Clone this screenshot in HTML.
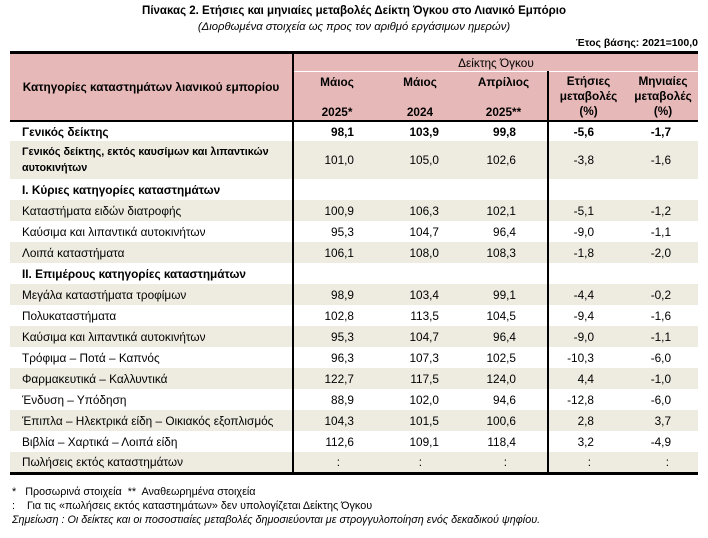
<!DOCTYPE html>
<html><head><meta charset="utf-8">
<style>
body{margin:0;width:708px;height:538px;background:#fff;font-family:"Liberation Sans Narrow","Liberation Sans","DejaVu Sans",sans-serif;color:#000;position:relative;overflow:hidden}
.t{position:absolute;left:0;width:708px;text-align:center;white-space:nowrap}
table{position:absolute;left:10px;top:51px;width:688px;border-collapse:collapse;table-layout:fixed;font-size:11.8px}
td{padding:0;white-space:nowrap;overflow:visible}
thead td{background:#e6b9b8;text-align:center}
.sh td{background:#eeece1}
td.l{padding-left:12px;text-align:left}
td.n1{text-align:right;padding-right:26px}
td.n2{text-align:right;padding-right:21px}
td.n3{text-align:right;padding-right:31px}
td.n4{text-align:right;padding-right:34px}
td.n5{text-align:right;padding-right:27px}
.vl{border-left:2px solid #000}
b{font-weight:bold}
tbody tr{height:21px}
tbody td{line-height:14px}
.foot{position:absolute;left:12px;font-size:10.8px;white-space:nowrap}
</style></head><body>
<div class="t" style="top:5px;font-size:11.5px;font-weight:bold">Πίνακας 2. Ετήσιες και μηνιαίες μεταβολές Δείκτη Όγκου στο Λιανικό Εμπόριο</div>
<div class="t" style="top:21px;font-size:11.3px;font-style:italic">(Διορθωμένα στοιχεία ως προς τον αριθμό εργάσιμων ημερών)</div>
<div style="position:absolute;right:10px;top:37px;font-size:10.5px;font-weight:bold">Έτος βάσης: 2021=100,0</div>
<table>
<colgroup><col style="width:283px"><col style="width:87px"><col style="width:80px"><col style="width:88px"><col style="width:80px"><col style="width:70px"></colgroup>
<thead>
<tr style="height:19px;border-top:3px solid #000"><td rowspan="2" style="font-weight:bold">Κατηγορίες καταστημάτων λιανικού εμπορίου</td><td colspan="5" class="vl" style="border-bottom:1px solid #fff;line-height:14px">Δείκτης Όγκου</td></tr>
<tr style="height:48px;border-bottom:2px solid #000;font-weight:bold">
<td class="vl" style="line-height:15px;padding-top:3px;vertical-align:top">Μάιος<br><br>2025*</td>
<td style="line-height:15px;padding-top:3px;vertical-align:top">Μάιος<br><br>2024</td>
<td style="line-height:15px;padding-top:3px;vertical-align:top">Απρίλιος<br><br>2025**</td>
<td class="vl" style="line-height:15px">Ετήσιες<br>μεταβολές<br>(%)</td>
<td style="line-height:15px">Μηνιαίες<br>μεταβολές<br>(%)</td></tr>
</thead>
<tbody>
<tr style="height:20px;font-weight:bold"><td class="l">Γενικός δείκτης</td><td class="n1 vl">98,1</td><td class="n2">103,9</td><td class="n3">99,8</td><td class="n4 vl">-5,6</td><td class="n5">-1,7</td></tr>
<tr class="sh" style="height:38px"><td class="l" style="font-weight:bold;line-height:16px;font-size:10.8px">Γενικός δείκτης, εκτός καυσίμων και λιπαντικών<br>αυτοκινήτων</td><td class="n1 vl">101,0</td><td class="n2">105,0</td><td class="n3">102,6</td><td class="n4 vl">-3,8</td><td class="n5">-1,6</td></tr>
<tr><td class="l"><b>I. Κύριες κατηγορίες καταστημάτων</b></td><td class="vl"></td><td></td><td></td><td class="vl"></td><td></td></tr>
<tr class="sh"><td class="l">Καταστήματα ειδών διατροφής</td><td class="n1 vl">100,9</td><td class="n2">106,3</td><td class="n3">102,1</td><td class="n4 vl">-5,1</td><td class="n5">-1,2</td></tr>
<tr><td class="l">Καύσιμα και λιπαντικά αυτοκινήτων</td><td class="n1 vl">95,3</td><td class="n2">104,7</td><td class="n3">96,4</td><td class="n4 vl">-9,0</td><td class="n5">-1,1</td></tr>
<tr class="sh"><td class="l">Λοιπά καταστήματα</td><td class="n1 vl">106,1</td><td class="n2">108,0</td><td class="n3">108,3</td><td class="n4 vl">-1,8</td><td class="n5">-2,0</td></tr>
<tr><td class="l"><b>II. Επιμέρους κατηγορίες καταστημάτων</b></td><td class="vl"></td><td></td><td></td><td class="vl"></td><td></td></tr>
<tr class="sh"><td class="l">Μεγάλα καταστήματα τροφίμων</td><td class="n1 vl">98,9</td><td class="n2">103,4</td><td class="n3">99,1</td><td class="n4 vl">-4,4</td><td class="n5">-0,2</td></tr>
<tr><td class="l">Πολυκαταστήματα</td><td class="n1 vl">102,8</td><td class="n2">113,5</td><td class="n3">104,5</td><td class="n4 vl">-9,4</td><td class="n5">-1,6</td></tr>
<tr class="sh"><td class="l">Καύσιμα και λιπαντικά αυτοκινήτων</td><td class="n1 vl">95,3</td><td class="n2">104,7</td><td class="n3">96,4</td><td class="n4 vl">-9,0</td><td class="n5">-1,1</td></tr>
<tr><td class="l">Τρόφιμα – Ποτά – Καπνός</td><td class="n1 vl">96,3</td><td class="n2">107,3</td><td class="n3">102,5</td><td class="n4 vl">-10,3</td><td class="n5">-6,0</td></tr>
<tr class="sh"><td class="l">Φαρμακευτικά – Καλλυντικά</td><td class="n1 vl">122,7</td><td class="n2">117,5</td><td class="n3">124,0</td><td class="n4 vl">4,4</td><td class="n5">-1,0</td></tr>
<tr><td class="l">Ένδυση – Υπόδηση</td><td class="n1 vl">88,9</td><td class="n2">102,0</td><td class="n3">94,6</td><td class="n4 vl">-12,8</td><td class="n5">-6,0</td></tr>
<tr class="sh"><td class="l">Έπιπλα – Ηλεκτρικά είδη – Οικιακός εξοπλισμός</td><td class="n1 vl">104,3</td><td class="n2">101,5</td><td class="n3">100,6</td><td class="n4 vl">2,8</td><td class="n5">3,7</td></tr>
<tr><td class="l">Βιβλία – Χαρτικά – Λοιπά είδη</td><td class="n1 vl">112,6</td><td class="n2">109,1</td><td class="n3">118,4</td><td class="n4 vl">3,2</td><td class="n5">-4,9</td></tr>
<tr class="sh" style="border-bottom:3px solid #000"><td class="l">Πωλήσεις εκτός καταστημάτων</td><td class="n1 vl" style="padding-right:40px">:</td><td class="n2" style="padding-right:38px">:</td><td class="n3" style="padding-right:40px">:</td><td class="n4 vl" style="padding-right:37px">:</td><td class="n5" style="padding-right:29px">:</td></tr>
</tbody></table>
<div class="foot" style="top:486px">*&nbsp;&nbsp; Προσωρινά στοιχεία&nbsp; **&nbsp; Αναθεωρημένα στοιχεία</div>
<div class="foot" style="top:500px">:&nbsp;&nbsp;&nbsp; Για τις «πωλήσεις εκτός καταστημάτων» δεν υπολογίζεται Δείκτης Όγκου</div>
<div class="foot" style="top:514px;font-style:italic">Σημείωση : Οι δείκτες και οι ποσοστιαίες μεταβολές δημοσιεύονται με στρογγυλοποίηση ενός δεκαδικού ψηφίου.</div>
</body></html>
